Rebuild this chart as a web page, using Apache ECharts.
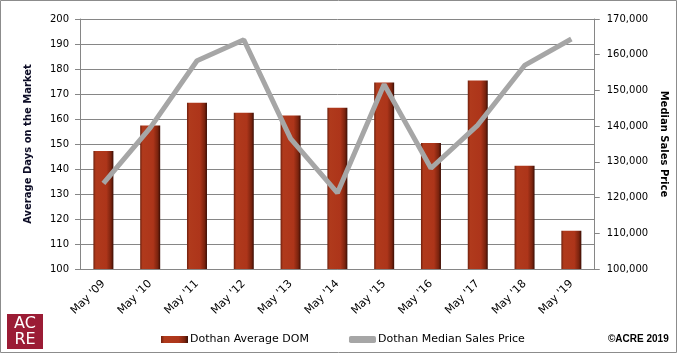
<!DOCTYPE html>
<html>
<head>
<meta charset="utf-8">
<script src="https://cdn.jsdelivr.net/npm/echarts@6/dist/echarts.min.js"></script>
<style>
  html, body { margin: 0; padding: 0; background: #fff; }
  #chart { width: 677px; height: 353px; }
</style>
</head>
<body>
<div id="chart"></div>
<script>
var categories = ["May '09", "May '10", "May '11", "May '12", "May '13", "May '14",
                  "May '15", "May '16", "May '17", "May '18", "May '19"];
var avgDom = [147.2, 157.4, 166.5, 162.5, 161.4, 164.5, 174.6, 150.4, 175.4, 141.3, 115.3];
var medianPrice = [124000, 139500, 158300, 164200, 136500, 121300, 151700, 128200, 140300, 157000, 164400];

(function() {
  var myChart = echarts.init(document.getElementById('chart'));
  var font = 'DejaVu Sans';

  // dark red cylinder look for the bars
  var barColor = new echarts.graphic.LinearGradient(0, 0, 1, 0, [
    { offset: 0, color: '#6e200d' },
    { offset: 0.12, color: '#b03a1c' },
    { offset: 0.65, color: '#ad351a' },
    { offset: 0.88, color: '#7a230e' },
    { offset: 1, color: '#3a0d04' }
  ]);

  var option = {
    animation: false,
    textStyle: { fontFamily: font },
    grid: { left: 80, right: 80, top: 19, bottom: 84 },
    legend: {
      left: 161,
      top: 334,
      padding: 0,
      itemWidth: 27,
      itemHeight: 7,
      itemGap: 40,
      textStyle: { fontFamily: font, fontSize: 11, color: '#000', padding: [0, 0, 0, -3] },
      data: [
        { name: 'Dothan Average DOM', icon: 'rect' },
        { name: 'Dothan Median Sales Price', icon: 'roundRect' }
      ]
    },
    xAxis: {
      type: 'category',
      data: categories,
      axisLine: { lineStyle: { color: '#868686' } },
      axisTick: { length: 5, lineStyle: { color: '#868686' } },
      axisLabel: { rotate: 45, margin: 13, fontSize: 11, color: '#000', interval: 0 }
    },
    yAxis: [
      {
        type: 'value',
        min: 100,
        max: 200,
        interval: 10,
        name: 'Average Days on the Market',
        nameLocation: 'middle',
        nameGap: 47,
        nameTextStyle: { fontFamily: font, fontSize: 10, fontWeight: 'bold', color: '#0d0d26' },
        axisLine: { show: true, lineStyle: { color: '#868686' } },
        axisTick: { show: true, length: 5, lineStyle: { color: '#868686' } },
        axisLabel: { margin: 11, fontSize: 10, color: '#000' },
        splitLine: { lineStyle: { color: '#868686' } }
      },
      {
        type: 'value',
        min: 100000,
        max: 170000,
        interval: 10000,
        name: 'Median Sales Price',
        nameLocation: 'middle',
        nameRotate: -90,
        nameGap: 62,
        nameTextStyle: { fontFamily: font, fontSize: 10, fontWeight: 'bold', color: '#000' },
        axisLine: { show: true, lineStyle: { color: '#868686' } },
        axisTick: { show: true, length: 5, lineStyle: { color: '#868686' } },
        axisLabel: {
          margin: 12, fontSize: 10, color: '#000',
          formatter: function(v) { return echarts.format.addCommas(v); }
        },
        splitLine: { show: false }
      }
    ],
    series: [
      {
        name: 'Dothan Average DOM',
        type: 'bar',
        barWidth: 20,
        yAxisIndex: 0,
        itemStyle: { color: barColor },
        data: avgDom
      },
      {
        name: 'Dothan Median Sales Price',
        type: 'line',
        yAxisIndex: 1,
        showSymbol: false,
        symbol: 'none',
        itemStyle: { color: '#a6a6a6' },
        lineStyle: { color: '#a6a6a6', width: 5 },
        data: medianPrice
      }
    ],
    graphic: [
      {
        type: 'rect',
        shape: { x: 0.5, y: 0.5, width: 676, height: 352 },
        style: { fill: 'none', stroke: '#8c8c8c', lineWidth: 1 },
        silent: true
      },
      {
        type: 'group',
        left: 7,
        top: 314,
        children: [
          { type: 'rect', shape: { x: 0, y: 0, width: 36, height: 35 }, style: { fill: '#9b1c35' } },
          { type: 'text', x: 18, y: 10, style: { text: 'AC', fill: '#fff', font: '16px "DejaVu Sans"', align: 'center', verticalAlign: 'middle' } },
          { type: 'text', x: 18, y: 26, style: { text: 'RE', fill: '#fff', font: '16px "DejaVu Sans"', align: 'center', verticalAlign: 'middle' } }
        ]
      },
      {
        type: 'text',
        left: 608,
        top: 334,
        style: { text: '\u00a9ACRE 2019', fill: '#000', font: 'bold 10px "Liberation Sans"' }
      }
    ]
  };

  myChart.setOption(option);
})();
</script>
</body>
</html>
